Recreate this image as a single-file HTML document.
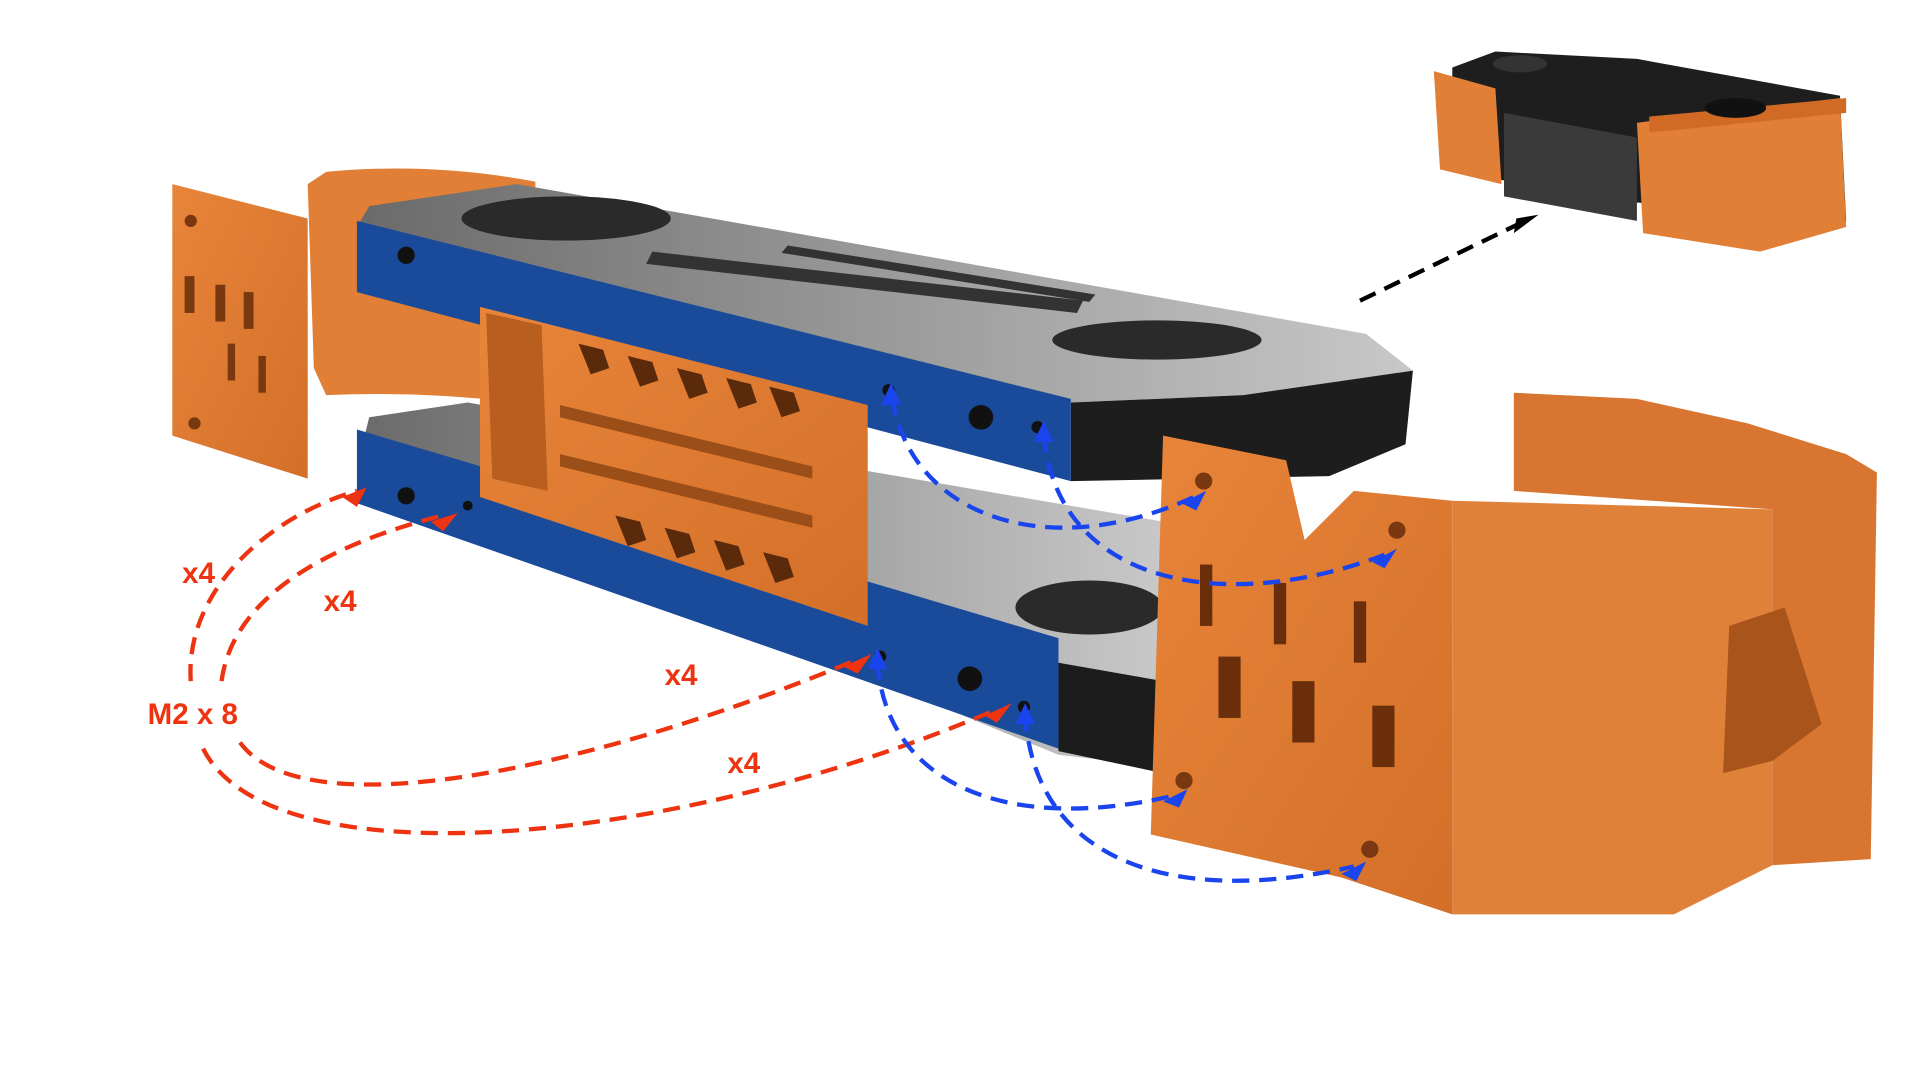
<!DOCTYPE html>
<html><head><meta charset="utf-8"><style>
html,body{margin:0;padding:0;background:#fff;width:1920px;height:1080px;overflow:hidden}
svg{display:block}
text{font-family:"Liberation Sans",sans-serif;font-weight:bold}
</style></head><body>
<svg width="1920" height="1080" viewBox="0 0 1560 880" preserveAspectRatio="none" xmlns="http://www.w3.org/2000/svg">
<defs>
<linearGradient id="gp" x1="0" y1="0" x2="1" y2="0"><stop offset="0" stop-color="#6a6a6a"/><stop offset="0.5" stop-color="#9a9a9a"/><stop offset="1" stop-color="#c8c8c8"/></linearGradient>
<linearGradient id="go" x1="0" y1="0" x2="1" y2="1"><stop offset="0" stop-color="#e8853a"/><stop offset="1" stop-color="#d36f28"/></linearGradient>
</defs>
<!-- left wing behind plates -->
<path d="M250,150 L265,140 Q350,132 435,148 L435,330 Q350,318 265,322 L255,300 Z" fill="#e07f35"/>
<!-- bottom plate -->
<g>
<polygon points="300,340 380,328 945,425 945,625 860,615 290,380" fill="url(#gp)"/>
<polygon points="860,540 945,555 945,630 860,612" fill="#1c1c1c"/>
<ellipse cx="885" cy="495" rx="60" ry="22" fill="#2a2a2a"/>
</g>
<!-- top plate -->
<g>
<polygon points="300,168 420,150 1110,272 1148,302 1010,322 870,328 290,185" fill="url(#gp)"/>
<polygon points="870,328 1010,322 1148,302 1142,362 1080,388 870,392" fill="#1d1d1d"/>
<ellipse cx="460" cy="178" rx="85" ry="18" fill="#2a2a2a"/>
<ellipse cx="940" cy="277" rx="85" ry="16" fill="#2a2a2a"/>
<polygon points="530,205 880,245 875,255 525,215" fill="#333"/>
<polygon points="640,200 890,240 885,246 635,206" fill="#333"/>
</g>
<!-- blue rails -->
<polygon points="290,180 870,325 870,392 290,238" fill="#1a4a9a"/>
<polygon points="290,350 860,520 860,610 290,410" fill="#1a4a9a"/>
<!-- center orange X block -->
<g>
<polygon points="390,250 705,330 705,510 390,405" fill="url(#go)"/>
<polygon points="395,255 440,265 445,400 400,390" fill="#b85e1e"/>
<polygon points="455,330 660,380 660,390 455,340" fill="#9c4e18"/>
<polygon points="455,370 660,420 660,430 455,380" fill="#9c4e18"/>
<g fill="#5a2a0a">
<polygon points="470,280 490,285 495,300 480,305"/><polygon points="510,290 530,295 535,310 520,315"/>
<polygon points="550,300 570,305 575,320 560,325"/><polygon points="590,308 610,313 615,328 600,333"/>
<polygon points="625,315 645,320 650,335 635,340"/>
<polygon points="500,420 520,425 525,440 510,445"/><polygon points="540,430 560,435 565,450 550,455"/>
<polygon points="580,440 600,445 605,460 590,465"/><polygon points="620,450 640,455 645,470 630,475"/>
</g>
</g>
<g fill="#111">
<circle cx="330" cy="208" r="7"/><circle cx="722" cy="318" r="5"/><circle cx="797" cy="340" r="10"/><circle cx="843" cy="348" r="5"/>
<circle cx="330" cy="404" r="7"/><circle cx="380" cy="412" r="4"/><circle cx="715" cy="535" r="5"/><circle cx="788" cy="553" r="10"/><circle cx="832" cy="576" r="5"/>
</g>
<!-- left orange part -->
<g>
<polygon points="140,150 250,178 250,390 140,355" fill="url(#go)"/>
<g fill="#7a3810"><rect x="150" y="225" width="8" height="30"/><rect x="175" y="232" width="8" height="30"/><rect x="198" y="238" width="8" height="30"/><rect x="185" y="280" width="6" height="30"/><rect x="210" y="290" width="6" height="30"/></g>
<circle cx="155" cy="180" r="5" fill="#7a3810"/><circle cx="158" cy="345" r="5" fill="#7a3810"/>
</g>
<!-- right orange part -->
<g>
<polygon points="1230,320 1330,325 1420,345 1500,370 1525,385 1520,700 1440,705 1440,415 1230,400" fill="#d87530"/>
<polygon points="945,355 1045,375 1060,440 1100,400 1180,408 1180,745 1090,715 935,680" fill="url(#go)"/>
<polygon points="1180,408 1440,415 1440,705 1360,745 1180,745" fill="#e0813a"/>
<polygon points="1405,510 1450,495 1480,590 1440,620 1400,630" fill="#a8541a"/>
<g fill="#6a2e0a"><rect x="975" y="460" width="10" height="50"/><rect x="1035" y="475" width="10" height="50"/><rect x="1100" y="490" width="10" height="50"/><rect x="990" y="535" width="18" height="50"/><rect x="1050" y="555" width="18" height="50"/><rect x="1115" y="575" width="18" height="50"/></g>
<circle cx="978" cy="392" r="7" fill="#7a3810"/><circle cx="1135" cy="432" r="7" fill="#7a3810"/><circle cx="962" cy="636" r="7" fill="#7a3810"/><circle cx="1113" cy="692" r="7" fill="#7a3810"/>
</g>
<!-- small assembled preview -->
<g>
<polygon points="1180,55 1215,42 1330,48 1495,78 1500,180 1330,165 1180,140" fill="#1e1e1e"/>
<polygon points="1165,58 1215,72 1220,150 1170,138" fill="#e07f35"/>
<polygon points="1330,100 1495,80 1500,185 1430,205 1335,190" fill="#e07f35"/>
<polygon points="1222,92 1330,112 1330,180 1222,160" fill="#3a3a3a"/>
<polygon points="1340,95 1500,80 1500,92 1340,108" fill="#d06a25"/>
<ellipse cx="1410" cy="88" rx="25" ry="8" fill="#111"/>
<ellipse cx="1235" cy="52" rx="22" ry="7" fill="#333"/>
</g>
<!-- arrows -->
<g fill="none" stroke-width="3.5" stroke-dasharray="14,8">
<path d="M1105,245 L1235,182" stroke="#000"/>
<g stroke="#ee3311">
<path d="M155,555 C150,480 220,420 290,400"/>
<path d="M180,555 C190,480 280,440 360,420"/>
<path d="M195,605 C250,680 500,620 695,538"/>
<path d="M165,610 C220,720 550,690 810,578"/>
</g>
<g stroke="#1a44ee">
<path d="M725,325 C740,420 850,460 970,405"/>
<path d="M848,355 C860,480 1000,500 1125,452"/>
<path d="M713,540 C720,640 820,680 955,648"/>
<path d="M833,582 C840,700 950,740 1100,706"/>
</g>
</g>
<g fill="#ee3311"><polygon points="278,405 298,397 290,413"/><polygon points="350,425 372,418 360,433"/><polygon points="685,543 708,533 697,549"/><polygon points="800,583 822,573 810,589"/></g>
<g fill="#1a44ee"><polygon points="960,410 980,400 972,416"/><polygon points="1115,458 1135,447 1125,463"/><polygon points="945,653 965,643 958,658"/><polygon points="1090,712 1110,702 1102,718"/><polygon points="716,330 724,312 732,330"/><polygon points="840,360 848,343 856,360"/><polygon points="705,545 713,528 721,545"/><polygon points="825,590 833,573 841,590"/></g>
<polygon fill="#000" points="1230,190 1250,175 1232,178"/>
<g fill="#ee3311" font-size="24">
<text x="148" y="475">x4</text>
<text x="263" y="498">x4</text>
<text x="540" y="558">x4</text>
<text x="591" y="630">x4</text>
<text x="120" y="590">M2 x 8</text>
</g>
</svg>
</body></html>
